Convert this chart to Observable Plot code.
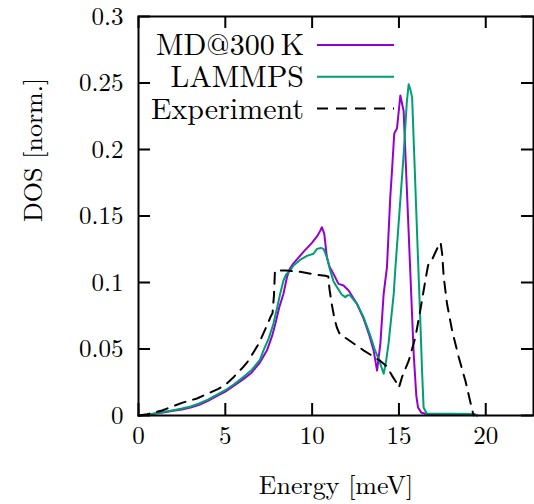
<!DOCTYPE html>
<html>
<head>
<meta charset="utf-8">
<script src="https://cdn.jsdelivr.net/npm/d3@7"></script>
<script src="https://cdn.jsdelivr.net/npm/@observablehq/plot@0.6"></script>
<style>
  html, body { margin: 0; padding: 0; background: white; }
  #chart svg, #chart svg text {
    font-family: "Latin Modern Roman", "Liberation Serif", "DejaVu Serif", serif !important;
  }
</style>
</head>
<body>
<div id="chart"></div>
<script>
// ---- data ----
const xTicks = [0, 5, 10, 15, 20];
const yTicks = [0, 0.05, 0.1, 0.15, 0.2, 0.25, 0.3];
const xLabel = "Energy [meV]";
const yLabel = "DOS [norm.]";
const seriesNames = ["MD@300\u2009K", "LAMMPS", "Experiment"];
const seriesColors = ["#9400d3", "#009e73", "#000000"];

const mdE = [0, 0.5, 1, 1.5, 2, 2.5, 3, 3.5, 4, 4.5, 5, 5.5, 6, 6.5, 7, 7.4, 7.7, 7.9, 8.1, 8.35, 8.55, 8.7, 8.9, 9.1, 9.5, 10.0, 10.3, 10.47, 10.56, 10.7, 10.85, 11.0, 11.23, 11.52, 11.81, 12.1, 12.58, 12.96, 13.3, 13.54, 13.74, 13.93, 14.12, 14.31, 14.5, 14.6, 14.73, 14.89, 15.08, 15.27, 15.47, 15.66, 15.85, 16.0, 16.1, 16.3, 16.6, 19.3, 19.5];
const mdV = [0, 0.0005, 0.0015, 0.0025, 0.0035, 0.0045, 0.006, 0.008, 0.011, 0.0145, 0.018, 0.0225, 0.027, 0.032, 0.040, 0.049, 0.060, 0.070, 0.081, 0.0915, 0.104, 0.110, 0.114, 0.117, 0.123, 0.130, 0.135, 0.139, 0.1416, 0.1366, 0.119, 0.112, 0.1065, 0.099, 0.0977, 0.094, 0.084, 0.073, 0.060, 0.049, 0.0338, 0.054, 0.0915, 0.1115, 0.164, 0.184, 0.212, 0.216, 0.2406, 0.229, 0.166, 0.106, 0.046, 0.015, 0.006, 0.002, 0.0012, 0.0012, 0];

const lmE = [0, 0.5, 1, 1.5, 2, 2.5, 3, 3.5, 4, 4.5, 5, 5.5, 6, 6.5, 7, 7.2, 7.5, 7.77, 8.0, 8.16, 8.35, 8.5, 8.74, 8.93, 9.3, 9.7, 10.08, 10.28, 10.5, 10.66, 10.85, 11.04, 11.23, 11.43, 11.7, 11.91, 12.05, 12.2, 12.58, 12.96, 13.3, 13.6, 13.9, 14.12, 14.25, 14.4, 14.7, 14.79, 15.27, 15.45, 15.56, 15.66, 15.76, 15.95, 16.05, 16.23, 16.33, 16.42, 16.6, 19.3, 19.5];
const lmV = [0, 0.0006, 0.0017, 0.0028, 0.004, 0.0052, 0.0068, 0.009, 0.012, 0.0155, 0.019, 0.0235, 0.0285, 0.034, 0.042, 0.049, 0.058, 0.069, 0.082, 0.0915, 0.1015, 0.106, 0.109, 0.1128, 0.117, 0.120, 0.1216, 0.1253, 0.126, 0.1253, 0.119, 0.109, 0.101, 0.0965, 0.091, 0.089, 0.0905, 0.0902, 0.084, 0.074, 0.062, 0.050, 0.040, 0.0314, 0.040, 0.054, 0.0915, 0.110, 0.196, 0.235, 0.249, 0.245, 0.239, 0.171, 0.135, 0.0714, 0.034, 0.006, 0.0015, 0.0012, 0];

const exE = [0, 0.5, 1.36, 2, 2.5, 3.37, 4, 4.6, 5.0, 5.49, 6.0, 6.26, 6.6, 6.93, 7.2, 7.41, 7.6, 7.72, 7.8, 7.86, 8.5, 9.31, 10.2, 10.75, 10.93, 11.0, 11.14, 11.3, 11.43, 11.6, 12.0, 12.96, 13.93, 14.3, 14.6, 14.89, 15.0, 15.18, 15.56, 15.95, 16.23, 16.52, 16.68, 16.9, 17.29, 17.4, 17.49, 17.58, 17.77, 18.06, 18.44, 18.83, 19.22, 19.3];
const exV = [0, 0.001, 0.0038, 0.007, 0.0095, 0.0128, 0.0165, 0.020, 0.023, 0.029, 0.036, 0.040, 0.047, 0.054, 0.062, 0.068, 0.074, 0.077, 0.09, 0.109, 0.109, 0.108, 0.106, 0.105, 0.1045, 0.095, 0.083, 0.072, 0.066, 0.061, 0.0577, 0.049, 0.041, 0.037, 0.030, 0.024, 0.021, 0.029, 0.041, 0.059, 0.079, 0.1015, 0.113, 0.117, 0.128, 0.130, 0.1215, 0.104, 0.084, 0.064, 0.044, 0.026, 0.004, 0];

// ---- build tables ----
const md = mdE.map((E, i) => ({E, v: mdV[i]}));
const lammps = lmE.map((E, i) => ({E, v: lmV[i]}));
const exp = exE.map((E, i) => ({E, v: exV[i]}));

const W = 534, H = 504;
const mL = 138, mR = 1, mT = 16, mB = 89;
const plotW = W - mL - mR, plotH = H - mT - mB;
const tickLen = 12;
const font = "'Latin Modern Roman', 'Liberation Serif', serif";
const fs = 26;      // axis text
const fsTick = 25;  // tick labels
const fsLeg = 30;   // legend text

const dashes = [null, null, "11,8"];

function legendMark(index, scales, values, dimensions) {
  const g = d3.create("svg:g")
    .attr("font-family", font)
    .attr("font-size", fsLeg);
  const textRight = 304, lineX1 = 317, lineX2 = 394, row0 = 45, rowStep = 31.7;
  seriesNames.forEach((name, i) => {
    const y = row0 + i * rowStep;
    g.append("text")
      .attr("x", textRight).attr("y", y).attr("dy", "0.34em")
      .attr("text-anchor", "end").attr("fill", "black")
      .text(name);
    const l = g.append("line")
      .attr("x1", lineX1).attr("x2", lineX2)
      .attr("y1", y).attr("y2", y)
      .attr("stroke", seriesColors[i]).attr("stroke-width", 2);
    if (dashes[i]) l.attr("stroke-dasharray", dashes[i]);
  });
  return g.node();
}

const chart = Plot.plot({
  width: W, height: H,
  marginLeft: mL, marginRight: mR, marginTop: mT, marginBottom: mB,
  style: {fontFamily: font, fontSize: fs + "px", background: "white", color: "black", overflow: "visible"},
  x: {domain: [0, 22.75]},
  y: {domain: [0, 0.3]},
  marks: [
    Plot.axisX({ticks: xTicks, tickSize: 0, tickPadding: 11, label: null, tickFormat: d => String(d), fontSize: fsTick}),
    Plot.axisY({ticks: yTicks, tickSize: 0, tickPadding: 15, label: null, tickFormat: d => String(d), fontSize: fsTick}),
    Plot.line(md, {x: "E", y: "v", stroke: seriesColors[0], strokeWidth: 2}),
    Plot.line(lammps, {x: "E", y: "v", stroke: seriesColors[1], strokeWidth: 2}),
    Plot.line(exp, {x: "E", y: "v", stroke: seriesColors[2], strokeWidth: 2, strokeDasharray: dashes[2]}),
    // inward ticks on all four sides
    Plot.tickX(xTicks, {x: d => d, insetTop: plotH - tickLen, strokeWidth: 2}),
    Plot.tickX(xTicks, {x: d => d, insetBottom: plotH - tickLen, strokeWidth: 2}),
    Plot.tickY(yTicks, {y: d => d, insetRight: plotW - tickLen, strokeWidth: 2}),
    Plot.tickY(yTicks, {y: d => d, insetLeft: plotW - tickLen, strokeWidth: 2}),
    Plot.frame({stroke: "black", strokeWidth: 2}),
    legendMark,
    Plot.text([xLabel], {text: d => d, frameAnchor: "bottom", dy: 78, fontSize: fs, fill: "black"}),
    Plot.text([yLabel], {text: d => d, frameAnchor: "left", rotate: -90, dx: -105, dy: 6, fontSize: fs, fill: "black"})
  ]
});
document.getElementById("chart").appendChild(chart);
</script>
</body>
</html>
